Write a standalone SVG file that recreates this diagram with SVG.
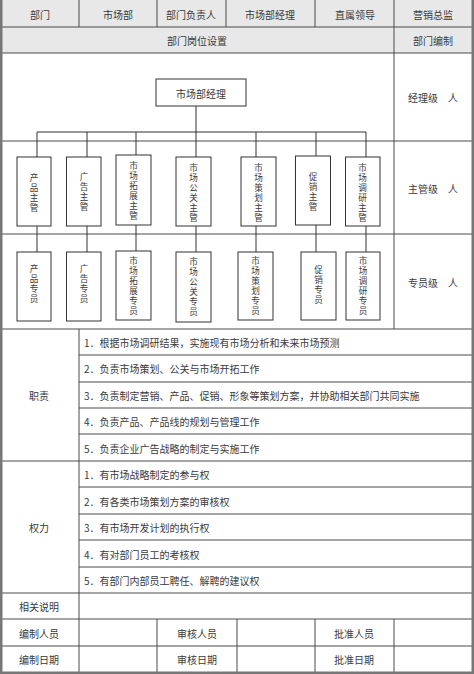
<svg xmlns="http://www.w3.org/2000/svg" width="474" height="674" viewBox="0 0 474 674">
<style>
text{font-family:"Noto Sans CJK SC","Noto Sans",sans-serif;font-size:10px;fill:#3a3a3a;dominant-baseline:central}
.c{text-anchor:middle}
.v{font-size:8.6px;writing-mode:vertical-rl;text-orientation:upright;text-anchor:middle}
.grid{stroke:#4a4a4a;stroke-width:1;fill:none}
.box{fill:#fff;stroke:#333;stroke-width:1}
.conn{stroke:#333;stroke-width:1;fill:none}
.outer{stroke:#777;stroke-width:2.5;fill:none}
</style>
<rect x="0" y="0" width="474" height="53" fill="#e8e8e8"/>
<g id="table">
<path class="grid" d="M2 27H472M2 53H472M2 141H472M2 234H472M2 329H472M79 355H472M79 382H472M79 408H472M79 434H472M2 461H472M79 487H472M79 514H472M79 540H472M79 567H472M2 593H472M2 619H472M2 646H472"/>
<path class="grid" d="M79 0V27M157 0V27M226 0V27M315 0V27M394 0V329M79 329V673M157 619V673M237 619V673M315 619V673M394 619V673"/>
<path class="outer" d="M1.25 0V672.75H472.75V0"/>
</g>
<g id="header">
<text class="c" x="40" y="14">部门</text>
<text class="c" x="118" y="14">市场部</text>
<text class="c" x="191" y="14">部门负责人</text>
<text class="c" x="270" y="14">市场部经理</text>
<text class="c" x="355" y="14">直属领导</text>
<text class="c" x="433" y="14">营销总监</text>
<text class="c" x="197" y="40">部门岗位设置</text>
<text class="c" x="433" y="40">部门编制</text>
<text class="c" x="433" y="97">经理级　人</text>
<text class="c" x="433" y="188">主管级　人</text>
<text class="c" x="433" y="282">专员级　人</text>
</g>
<g id="connectors">
<path class="conn" d="M196 106V132M37 132H366M37 132V157M87 132V157M136 132V155M196 132V157M256 132V157M316 132V156M366 132V157"/>
<path class="conn" d="M37 226V252M87 226V252M136 225V251M196 226V252M256 226V252M316 225V252M366 226V252"/>
</g>
<g id="n-manager"><rect class="box" x="156" y="79" width="90" height="27"/><text class="c" x="201" y="93">市场部经理</text></g>
<g id="n-s1"><rect class="box" x="17" y="157" width="34" height="69"/><text class="v" x="34" y="178">产</text><text class="v" x="34" y="188">品</text><text class="v" x="34" y="198">主</text><text class="v" x="34" y="208">管</text></g>
<g id="n-s2"><rect class="box" x="66.5" y="157" width="34.5" height="69" stroke-width="1.4"/><text class="v" x="84" y="177">广</text><text class="v" x="84" y="187">告</text><text class="v" x="84" y="197">主</text><text class="v" x="84" y="207">管</text></g>
<g id="n-s3"><rect class="box" x="116" y="155" width="35" height="70"/><text class="v" x="133.5" y="166">市</text><text class="v" x="133.5" y="176">场</text><text class="v" x="133.5" y="186">拓</text><text class="v" x="133.5" y="196">展</text><text class="v" x="133.5" y="206">主</text><text class="v" x="133.5" y="216">管</text></g>
<g id="n-s4"><rect class="box" x="176" y="157" width="35" height="69"/><text class="v" x="193.5" y="168">市</text><text class="v" x="193.5" y="178">场</text><text class="v" x="193.5" y="188">公</text><text class="v" x="193.5" y="198">关</text><text class="v" x="193.5" y="208">主</text><text class="v" x="193.5" y="218">管</text></g>
<g id="n-s5"><rect class="box" x="241" y="157" width="35" height="69" stroke-width="1.3"/><text class="v" x="258.5" y="168">市</text><text class="v" x="258.5" y="178">场</text><text class="v" x="258.5" y="188">策</text><text class="v" x="258.5" y="198">划</text><text class="v" x="258.5" y="208">主</text><text class="v" x="258.5" y="218">管</text></g>
<g id="n-s6"><rect class="box" x="295.5" y="156" width="35" height="69"/><text class="v" x="313" y="177">促</text><text class="v" x="313" y="187">销</text><text class="v" x="313" y="197">主</text><text class="v" x="313" y="207">管</text></g>
<g id="n-s7"><rect class="box" x="345.5" y="157" width="34.5" height="69" stroke-width="1.5"/><text class="v" x="362.5" y="168">市</text><text class="v" x="362.5" y="178">场</text><text class="v" x="362.5" y="188">调</text><text class="v" x="362.5" y="198">研</text><text class="v" x="362.5" y="208">主</text><text class="v" x="362.5" y="218">管</text></g>
<g id="n-e1"><rect class="box" x="17" y="252" width="34" height="69"/><text class="v" x="34" y="269">产</text><text class="v" x="34" y="279">品</text><text class="v" x="34" y="289">专</text><text class="v" x="34" y="299">员</text></g>
<g id="n-e2"><rect class="box" x="66.5" y="252" width="34.5" height="69" stroke-width="1.4"/><text class="v" x="84" y="269">广</text><text class="v" x="84" y="279">告</text><text class="v" x="84" y="289">专</text><text class="v" x="84" y="299">员</text></g>
<g id="n-e3"><rect class="box" x="116" y="251" width="35" height="69"/><text class="v" x="133.5" y="261">市</text><text class="v" x="133.5" y="271">场</text><text class="v" x="133.5" y="281">拓</text><text class="v" x="133.5" y="291">展</text><text class="v" x="133.5" y="301">专</text><text class="v" x="133.5" y="311">员</text></g>
<g id="n-e4"><rect class="box" x="176" y="252" width="35" height="70" stroke-width="1.3"/><text class="v" x="193.5" y="262">市</text><text class="v" x="193.5" y="272">场</text><text class="v" x="193.5" y="282">公</text><text class="v" x="193.5" y="292">关</text><text class="v" x="193.5" y="302">专</text><text class="v" x="193.5" y="312">员</text></g>
<g id="n-e5"><rect class="box" x="238" y="252" width="35" height="68" stroke-width="1.4"/><text class="v" x="255.5" y="261">市</text><text class="v" x="255.5" y="271">场</text><text class="v" x="255.5" y="281">策</text><text class="v" x="255.5" y="291">划</text><text class="v" x="255.5" y="301">专</text><text class="v" x="255.5" y="311">员</text></g>
<g id="n-e6"><rect class="box" x="301" y="252" width="35" height="68"/><text class="v" x="318.5" y="270">促</text><text class="v" x="318.5" y="280">销</text><text class="v" x="318.5" y="290">专</text><text class="v" x="318.5" y="300">员</text></g>
<g id="n-e7"><rect class="box" x="346" y="252" width="34" height="68" stroke-width="1.4"/><text class="v" x="363" y="261">市</text><text class="v" x="363" y="271">场</text><text class="v" x="363" y="281">调</text><text class="v" x="363" y="291">研</text><text class="v" x="363" y="301">专</text><text class="v" x="363" y="311">员</text></g>
<g id="duties">
<text class="c" x="39" y="395">职责</text>
<text x="84" y="342">1．根据市场调研结果，实施现有市场分析和未来市场预测</text>
<text x="84" y="368">2．负责市场策划、公关与市场开拓工作</text>
<text x="84" y="395">3．负责制定营销、产品、促销、形象等策划方案，并协助相关部门共同实施</text>
<text x="84" y="421">4．负责产品、产品线的规划与管理工作</text>
<text x="84" y="448">5．负责企业广告战略的制定与实施工作</text>
</g>
<g id="powers">
<text class="c" x="39" y="527">权力</text>
<text x="84" y="474">1．有市场战略制定的参与权</text>
<text x="84" y="501">2．有各类市场策划方案的审核权</text>
<text x="84" y="527">3．有市场开发计划的执行权</text>
<text x="84" y="554">4．有对部门员工的考核权</text>
<text x="84" y="580">5．有部门内部员工聘任、解聘的建议权</text>
</g>
<g id="footer">
<text class="c" x="39" y="606">相关说明</text>
<text class="c" x="39" y="633">编制人员</text>
<text class="c" x="197" y="633">审核人员</text>
<text class="c" x="354" y="633">批准人员</text>
<text class="c" x="39" y="659">编制日期</text>
<text class="c" x="197" y="659">审核日期</text>
<text class="c" x="354" y="659">批准日期</text>
</g>
</svg>
